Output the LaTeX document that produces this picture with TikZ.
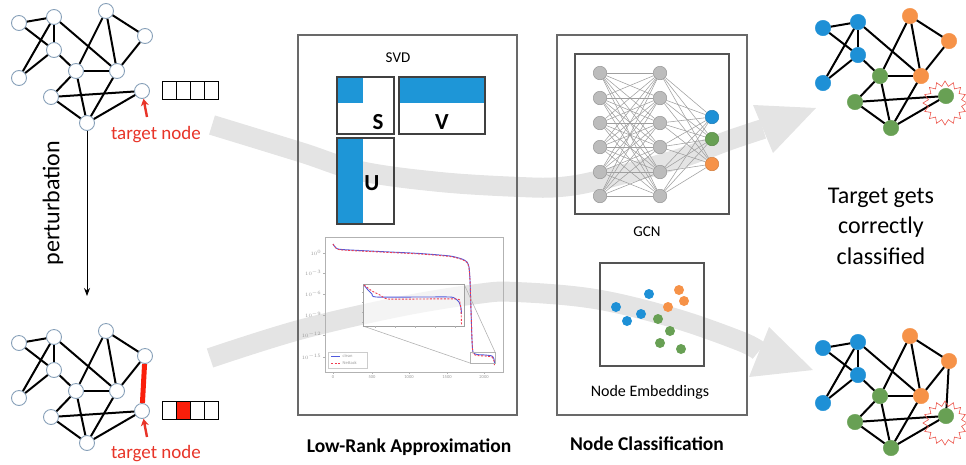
\documentclass[tikz,border=0pt]{standalone}
\usepackage{fontspec}
\setmainfont{Carlito}
\usetikzlibrary{shapes.geometric,arrows.meta}

\definecolor{nblue}{RGB}{30,144,214}
\definecolor{norange}{RGB}{246,146,72}
\definecolor{ngreen}{RGB}{104,160,84}
\definecolor{tred}{RGB}{232,52,40}
\definecolor{hotred}{RGB}{250,30,10}
\definecolor{framegray}{RGB}{105,105,105}
\definecolor{bandgray}{RGB}{228,228,228}
\definecolor{ringblue}{RGB}{135,160,185}
\definecolor{nngray}{RGB}{188,188,188}
\definecolor{matblue}{RGB}{30,150,215}
\definecolor{cleanblue}{RGB}{80,90,220}
\definecolor{attackred}{RGB}{240,60,80}

\tikzset{
  hollow/.style={circle, minimum size=15pt, inner sep=0pt, draw=ringblue, fill=white, line width=0.9pt},
  colornode/.style={circle, minimum size=15.5pt, inner sep=0pt, fill=#1, draw=#1},
  edge/.style={line width=2pt, black},
  cell/.style={draw=black, line width=0.9pt},
  panelbox/.style={draw=framegray, line width=1.3pt, inner sep=0pt},
  innerbox/.style={draw=framegray!80!black, line width=1.1pt, inner sep=0pt},
  matframe/.style={draw=black!75, line width=1.1pt},
  nn/.style={circle, minimum size=13.5pt, inner sep=0pt, fill=nngray, draw=nngray!80!black, line width=0.5pt},
  nnout/.style={circle, minimum size=13.5pt, inner sep=0pt, fill=#1, draw=#1!85!black, line width=0.5pt},
  nnedge/.style={draw=gray!75, line width=0.55pt},
  dot/.style={circle, minimum size=10pt, inner sep=0pt, fill=#1},
  band/.style={draw=bandgray, line width=20pt, line cap=butt},
  tlabel/.style={text=tred, font={\fontsize{19}{23}\selectfont}, inner sep=0pt},
  tarrow/.style={draw=tred, line width=2.4pt, -{Stealth[length=7pt,width=8pt]}},
  title/.style={font={\fontsize{19.5}{23}\selectfont\bfseries}, inner sep=0pt},
  caption/.style={font={\fontsize{15}{18}\selectfont}, inner sep=0pt},
  matletter/.style={font={\fontsize{23}{26}\selectfont\bfseries}, inner sep=0pt},
  burst/.style={star, star points=16, star point ratio=1.3, minimum size=44pt, inner sep=0pt, draw=tred!85, line width=0.6pt},
  axis/.style={draw=gray!60, line width=0.6pt},
  ticklab/.style={font={\fontsize{4.5}{5}\selectfont}, text=gray!80, inner sep=0.5pt},
}

% the eleven-node graph, drawn four times
\newcommand{\netnodes}[2]{%
  \foreach \n/\px/\py/\c in {A/19/23/nblue,B/54/17/nblue,C/106/11/norange,D/145/36/norange,%
      E/54/50/nblue,F/19/78/nblue,G/76/71/ngreen,H/117/71/norange,I/51/97/ngreen,%
      J/142/91/ngreen,K/87/123/ngreen}
    {\node[#2=\c] (#1\n) at (\px,\py) {};}%
}
\newcommand{\netedges}[1]{%
  \foreach \a/\b in {A/B,A/E,B/F,B/E,E/F,B/H,E/G,G/C,C/H,C/D,D/H,G/H,G/I,G/K,I/J,I/K,H/K,J/K}
    {\draw[edge] (#1\a) -- (#1\b);}%
}

\begin{document}
\begin{tikzpicture}[x=1pt, y=-1pt]
\useasboundingbox (0,0) rectangle (966,464);

% ---------- broad grey flow arrows (behind everything) ----------
\draw[band] plot[smooth, tension=0.6] coordinates
  {(212,125) (300,152) (360,171) (440,182) (520,187) (560,187) (600,180) (675,160) (730,140) (763,129)};
\fill[bandgray] (753,105) -- (816,108) -- (773,153) -- cycle;
\draw[band] plot[smooth, tension=0.6] coordinates
  {(210,358) (299,330) (398,307) (477,294) (516,292) (595,299) (674,318) (740,341) (759,351)};
\fill[bandgray] (769,327) -- (813,370) -- (749,377) -- cycle;

% ---------- clean graph (top left) ----------
\netnodes{tl}{hollow}
\netedges{tl}
\foreach \i in {0,...,3} {\draw[cell] (162+14*\i,81) rectangle ++(14,18);}
\node[tlabel] (tl-lab) at (156,135) {target node};
\coordinate (tl-tail) at (147,117);
\draw[tarrow] (tl-tail) -- (tlJ);

% perturbation arrow
\node[rotate=90, font={\fontsize{24}{28}\selectfont}, inner sep=0pt] (pert-text) at (53,203) {perturbation};
\coordinate (pert-end) at (88,296);
\draw[line width=1pt, -{Stealth[length=8pt,width=6pt]}] (tlK.south) -- (tlK.south |- pert-end);

% ---------- perturbed graph (bottom left) ----------
\begin{scope}[shift={(0,320)}]
  \netnodes{bl}{hollow}
  \netedges{bl}
  \draw[line width=5pt, hotred] (blD) -- (blJ);
  \foreach \i in {0,...,3} {\draw[cell] (162+14*\i,81) rectangle ++(14,18);}
  \fill[hotred] (176,81) rectangle (190,99);
  \draw[cell] (176,81) rectangle (190,99);
  \node[tlabel] (bl-lab) at (156,134) {target node};
  \coordinate (bl-tail) at (147,117);
  \draw[tarrow] (bl-tail) -- (blJ);
\end{scope}

% ---------- low-rank approximation panel ----------
\node[panelbox, minimum width=219pt, minimum height=380pt] (lowrank) at (407.5,225) {};
\node[title] (lowrank-title) at (409,447) {Low-Rank Approximation};
\node[caption] (svd) at (398,58) {SVD};

% S, V and U factors
\fill[matblue] (337,77) rectangle (363,103);
\draw[matframe] (337,77) rectangle (394,134);
\node[matletter] (mS) at (378,122) {S};
\fill[matblue] (399,77) rectangle (485,103);
\draw[matframe] (399,77) rectangle (485,134);
\node[matletter] (mV) at (442,122) {V};
\fill[matblue] (337,138) rectangle (363,224);
\draw[matframe] (337,138) rectangle (394,224);
\node[matletter] (mU) at (372,183) {U};

% singular value spectrum
\draw[axis] (325,237) rectangle (503,372);
\foreach \yy/\e in {253/0, 273/-3, 294/-6, 315/-9, 335/-12, 357/-15}
  {\draw[axis] (325,\yy) -- (323,\yy);
   \node[ticklab, anchor=east] at (322,\yy) {$10^{\e}$};}
\foreach \xx/\v in {333/0, 372/500, 409/1000, 447/1500, 484/2000}
  {\draw[axis] (\xx,372) -- (\xx,374);
   \node[ticklab, anchor=north] at (\xx,374.5) {\v};}
\draw[cleanblue, line width=0.9pt] plot[smooth, tension=0.4] coordinates
  {(333,244) (336,248) (342,249.5) (380,251.5) (420,253.5) (450,256) (462,259) (467,262) (469,267)
   (470,280) (471,310) (472,340) (473,352) (477,354.5) (485,355) (492,356) (494,359) (494.5,363)};
\draw[attackred, line width=0.9pt, dashed, dash pattern=on 2pt off 1.5pt] plot[smooth, tension=0.4] coordinates
  {(333,244) (336,248) (342,250) (380,252) (420,254) (450,256.5) (462,259.5) (467,262.5) (469,268)
   (470,280) (471,310) (472,340) (473,353) (477,355.5) (485,356) (492,357) (494,361) (494.5,366)};
% zoomed inset
\draw[axis] (470,352) rectangle (495,363);
\draw[axis] (363,326) -- (470,363);
\draw[axis] (464,284) -- (495,352);
\fill[white, opacity=0.6] (363,284) rectangle (464,326);
\draw[axis, draw=gray!75] (363,284) rectangle (464,326);
\foreach \xx in {375,395,415,435,455} {\draw[axis] (\xx,326) -- (\xx,327.5);}
\foreach \yy in {292,302,312,322} {\draw[axis] (363,\yy) -- (361.5,\yy);}
\draw[cleanblue, line width=0.9pt] plot[smooth, tension=0.4] coordinates
  {(364,285) (368,290) (372,294) (376,297) (420,297) (450,297) (455,298.5) (459,302) (461,308) (461.5,314)};
\draw[attackred, line width=0.9pt, dashed, dash pattern=on 2pt off 1.5pt] plot[smooth, tension=0.4] coordinates
  {(364,285) (372,291) (380,295) (388,299) (420,299) (457,299) (460,303) (461,310) (461.5,325)};
% legend
\draw[axis, draw=gray!40] (328,352) rectangle (367,368);
\draw[cleanblue, line width=0.9pt] (331,356) -- (340,356);
\node[ticklab, anchor=west] at (342,356) {clean};
\draw[attackred, line width=0.9pt, dashed, dash pattern=on 2pt off 1.5pt] (331,363) -- (340,363);
\node[ticklab, anchor=west] at (342,363) {Nettack};

% ---------- node classification panel ----------
\node[panelbox, minimum width=190pt, minimum height=380pt] (nodecls) at (652,225) {};
\node[title] (nodecls-title) at (647,444) {Node Classification};
\node[innerbox, minimum width=154pt, minimum height=160pt] (gcnbox) at (652,134) {};
\node[caption] (gcn) at (647,232) {GCN};

% GCN layers
\foreach \i/\yy in {1/73, 2/98, 3/123, 4/147, 5/172, 6/196}
  {\node[nn] (in\i) at (600,\yy) {};
   \node[nn] (hid\i) at (660,\yy) {};}
\node[nnout=nblue] (out1) at (712,117) {};
\node[nnout=ngreen] (out2) at (712,139) {};
\node[nnout=norange] (out3) at (712,164) {};
\foreach \i in {1,...,6}
  {\foreach \j in {1,...,6} {\draw[nnedge] (in\i) -- (hid\j);}
   \foreach \k in {1,2,3} {\draw[nnedge] (hid\i) -- (out\k);}}

% embedding space
\node[innerbox, minimum width=104pt, minimum height=103pt] (embbox) at (652,314.5) {};
\node[font={\fontsize{16}{19}\selectfont}, inner sep=0pt] (emb-cap) at (650,392) {Node Embeddings};
\node[dot=nblue] (e1) at (649,294) {};
\node[dot=nblue] (e2) at (616,307) {};
\node[dot=nblue] (e3) at (627,321) {};
\node[dot=nblue] (e4) at (641,314) {};
\node[dot=norange] (e5) at (679,290) {};
\node[dot=norange] (e6) at (684,301) {};
\node[dot=norange] (e7) at (668,307) {};
\node[dot=ngreen] (e8) at (658,319) {};
\node[dot=ngreen] (e9) at (670,331) {};
\node[dot=ngreen] (e10) at (660,343) {};
\node[dot=ngreen] (e11) at (681,349) {};

% ---------- classified graphs (right) ----------
\begin{scope}[shift={(804,5)}]
  \netnodes{tr}{colornode}
  \netedges{tr}
  \node[burst] (tr-burst) at (141,98) {};
\end{scope}
\begin{scope}[shift={(804,325)}]
  \netnodes{br}{colornode}
  \netedges{br}
  \draw[edge] (brD) -- (brJ);
  \node[burst] (br-burst) at (141,98) {};
\end{scope}

\node[align=center, font={\fontsize{24}{30.5}\selectfont}, inner sep=0pt] (verdict) at (881,226)
  {Target gets\\correctly\\classified};

\end{tikzpicture}
\end{document}
